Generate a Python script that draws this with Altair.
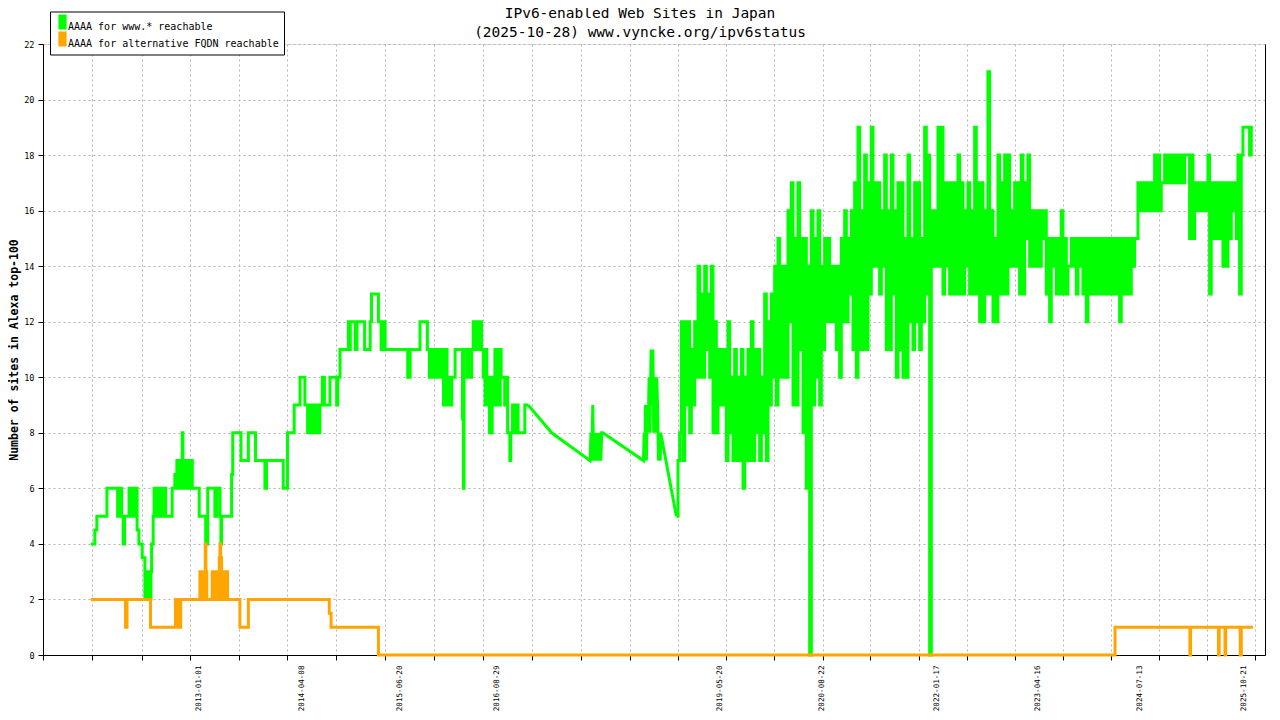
import altair as alt
import pandas as pd

MONO = "DejaVu Sans Mono"
GRID = "#b4b4b4"
WWW = "AAAA for www.* reachable"
ALT = "AAAA for alternative FQDN reachable"

# axis ticks / labels
x_tick_dates = ["2011-01-03", "2011-08-10", "2012-03-17", "2012-10-21", "2013-05-28",
                "2013-12-27", "2014-08-04", "2015-03-11", "2015-10-16", "2016-05-22",
                "2016-12-28", "2017-08-04", "2018-03-11", "2018-10-12", "2019-05-15",
                "2019-12-18", "2020-07-20", "2021-02-19", "2021-09-23", "2022-04-27",
                "2022-11-27", "2023-07-01", "2024-02-01", "2024-09-02", "2025-04-05",
                "2025-11-06"]
x_label_dates = ["2013-01-01", "2014-04-08", "2015-06-20", "2016-08-29", "2019-05-20",
                 "2020-08-22", "2022-01-17", "2023-04-16", "2024-07-13", "2025-10-21"]
y_ticks = [0, 2, 4, 6, 8, 10, 12, 14, 16, 18, 20, 22]

# www.* reachable, change points (2011-08 .. 2016-12)
www_step_dates = [
    "2011-08-03", "2011-08-21", "2011-08-30", "2011-10-14", "2011-12-01", "2011-12-06",
    "2011-12-19", "2011-12-26", "2012-01-01", "2012-01-21", "2012-01-25", "2012-01-29",
    "2012-02-02", "2012-02-06", "2012-02-10", "2012-02-14", "2012-02-18", "2012-02-22",
    "2012-02-26", "2012-03-05", "2012-03-20", "2012-04-01", "2012-04-05", "2012-04-09",
    "2012-04-13", "2012-04-17", "2012-04-21", "2012-04-25", "2012-04-28", "2012-05-01",
    "2012-05-08", "2012-05-12", "2012-05-16", "2012-05-20", "2012-05-24", "2012-05-28",
    "2012-06-01", "2012-06-05", "2012-06-09", "2012-06-13", "2012-06-17", "2012-06-21",
    "2012-06-25", "2012-06-29", "2012-07-03", "2012-08-01", "2012-08-13", "2012-08-22",
    "2012-08-26", "2012-08-30", "2012-09-03", "2012-09-07", "2012-09-11", "2012-09-15",
    "2012-09-18", "2012-09-22", "2012-09-26", "2012-09-30", "2012-10-04", "2012-10-08",
    "2012-10-12", "2012-10-16", "2012-10-20", "2012-10-24", "2012-10-30", "2012-11-30",
    "2012-12-29", "2013-01-07", "2013-02-08", "2013-02-17", "2013-03-03", "2013-03-07",
    "2013-03-10", "2013-04-24", "2013-04-29", "2013-06-05", "2013-07-08", "2013-08-09",
    "2013-09-20", "2013-09-27", "2013-12-11", "2013-12-30", "2014-01-29", "2014-02-24",
    "2014-03-18", "2014-03-30", "2014-04-03", "2014-04-07", "2014-04-11", "2014-04-15",
    "2014-04-19", "2014-04-23", "2014-04-27", "2014-05-01", "2014-05-05", "2014-05-09",
    "2014-05-13", "2014-05-17", "2014-05-24", "2014-06-04", "2014-06-13", "2014-07-08",
    "2014-08-07", "2014-08-12", "2014-08-22", "2014-09-29", "2014-10-03", "2014-10-07",
    "2014-10-29", "2014-11-06", "2014-12-10", "2015-01-04", "2015-01-10", "2015-02-10",
    "2015-02-22", "2015-02-28", "2015-03-12", "2015-06-21", "2015-07-02", "2015-08-15",
    "2015-09-17", "2015-09-26", "2015-09-30", "2015-10-04", "2015-10-08", "2015-10-12",
    "2015-10-16", "2015-10-20", "2015-10-24", "2015-10-28", "2015-11-01", "2015-11-05",
    "2015-11-09", "2015-11-13", "2015-11-17", "2015-11-21", "2015-11-25", "2015-11-28",
    "2015-12-02", "2015-12-06", "2015-12-10", "2015-12-14", "2015-12-18", "2015-12-22",
    "2015-12-26", "2015-12-30", "2016-01-04", "2016-01-19", "2016-02-21", "2016-02-25",
    "2016-02-28", "2016-03-13", "2016-03-20", "2016-03-27", "2016-04-02", "2016-04-09",
    "2016-04-17", "2016-04-21", "2016-04-27", "2016-05-06", "2016-05-16", "2016-05-24",
    "2016-05-28", "2016-06-01", "2016-06-05", "2016-06-09", "2016-06-13", "2016-06-17",
    "2016-06-21", "2016-06-25", "2016-06-29", "2016-07-03", "2016-07-09", "2016-07-15",
    "2016-07-19", "2016-07-23", "2016-07-27", "2016-07-31", "2016-08-04", "2016-08-08",
    "2016-08-12", "2016-08-28", "2016-09-04", "2016-09-10", "2016-09-20", "2016-09-24",
    "2016-10-02", "2016-10-06", "2016-10-10", "2016-10-14", "2016-10-20", "2016-10-27",
    "2016-11-26", "2016-12-11"]
www_step_vals = [
    4, 4.5, 5, 6, 5, 6,
    5, 4, 5, 6, 5, 6,
    5, 6, 5, 6, 5, 6,
    4.5, 4, 3.5, 2, 3, 2,
    3, 2, 3, 2, 3, 4,
    5, 6, 5, 6, 5, 6,
    5, 6, 5, 6, 5, 6,
    5, 6, 5, 6, 6.5, 7,
    6, 7, 6, 7, 6, 8,
    6, 7, 6, 7, 6, 7,
    6, 7, 6, 7, 6, 5,
    4, 6, 5, 6, 5, 4,
    5, 6.5, 8, 7, 8, 7,
    6, 7, 6, 8, 9, 10,
    9, 8, 9, 8, 9, 8,
    9, 8, 9, 8, 9, 8,
    9, 8, 9, 10, 9, 10,
    9, 10, 11, 12, 11, 12,
    11, 12, 11, 12, 13, 12,
    11, 12, 11, 10, 11, 12,
    11, 10, 11, 10, 11, 10,
    11, 10, 11, 10, 11, 10,
    11, 10, 11, 10, 11, 9,
    10, 9, 11, 9, 10, 9,
    10, 9, 10, 11, 8.5, 6,
    11, 10, 11, 10, 11, 12,
    11, 12, 11, 12, 11, 10,
    11, 9, 11, 10, 9, 10,
    8, 10, 8, 9, 10, 11,
    9, 11, 10, 11, 9, 11,
    10, 9, 10, 8, 7, 8,
    9, 8, 9, 8, 9, 8,
    9, 9]

# www.* reachable, sparse stretch 2016-12 .. 2018-10 (straight segments)
www_gap_dates = [
    "2016-12-11", "2017-03-26", "2017-09-14", "2017-09-18", "2017-09-22", "2017-09-26",
    "2017-09-30", "2017-10-04", "2017-10-08", "2017-10-12", "2017-10-16", "2017-10-20",
    "2017-10-24", "2017-10-28", "2017-11-01", "2017-11-05", "2017-11-10", "2018-05-11",
    "2018-05-14", "2018-05-17", "2018-05-20", "2018-05-24", "2018-05-28", "2018-06-01",
    "2018-06-05", "2018-06-09", "2018-06-14", "2018-06-18", "2018-06-22", "2018-06-26",
    "2018-06-30", "2018-07-05", "2018-07-09", "2018-07-13", "2018-07-17", "2018-07-21",
    "2018-07-25", "2018-07-27", "2018-10-05"]
www_gap_vals = [
    9, 8, 7, 8, 7, 9,
    7, 8, 7, 8, 7, 8,
    7, 8, 7, 8, 8, 7,
    8, 7, 9, 7, 9, 8,
    10, 8, 11, 9, 11, 8,
    10, 8, 10, 9, 7, 8,
    7, 8, 5]

# www.* reachable, dense daily noise 2018-10-05 .. 2025-10-28, low/high readings
www_dense_start = "2018-10-05"
www_dense_end = "2025-10-28"
www_dense_vals = [
    5, 7, 8, 12, 7, 12, 9, 12, 8, 11, 9, 12, 10, 14,
    10, 13, 10, 14, 11, 13, 10, 14, 8, 12, 8, 11, 9, 11, 9, 11, 7, 12, 8, 10,
    7, 11, 7, 10, 7, 11, 6, 10, 7, 11, 7, 12, 7, 11, 8, 11, 7, 10, 8, 13,
    7, 12, 9, 13, 10, 14, 9, 15, 10, 14, 10, 14, 10, 16, 12, 17, 9, 15, 9, 17,
    11, 15, 8, 15, 6, 14, 0, 16, 9, 15, 10, 16, 9, 14, 11, 15, 12, 15, 12, 14,
    12, 14, 11, 14, 10, 15, 12, 16, 12, 15, 13, 16, 11, 17, 10, 19, 11, 16, 11, 18,
    11, 17, 13, 19, 14, 17, 14, 17, 13, 16, 14, 18, 11, 16, 11, 18, 13, 16, 10, 17,
    11, 17, 10, 15, 10, 18, 12, 15, 11, 17, 12, 17, 11, 15, 12, 19, 13, 18, 0, 16,
    14, 16, 14, 19, 14, 19, 13, 17, 14, 17, 13, 17, 13, 17, 13, 18, 13, 17, 13, 16,
    14, 17, 13, 16, 13, 19, 13, 17, 12, 17, 12, 16, 13, 21, 13, 16, 12, 15, 12, 18,
    13, 17, 13, 18, 13, 18, 14, 16, 14, 17, 14, 17, 13, 18, 13, 17, 15, 18, 14, 16,
    14, 16, 14, 16, 14, 16, 15, 16, 13, 15, 12, 15, 14, 15, 13, 15, 13, 16, 13, 15,
    13, 14, 14, 15, 14, 15, 13, 15, 14, 15, 13, 15,
    12, 15, 13, 15, 13, 15, 13, 15, 13, 15, 13, 15, 13, 15, 13, 15, 13, 15, 13, 15,
    12, 15, 13, 15, 13, 15, 13, 15, 14, 15, 15, 17, 16, 17, 16, 17, 16, 17, 16, 17,
    16, 18, 16, 18, 16, 17, 17, 18, 17, 18, 17, 18, 17, 18, 17, 18, 17, 18, 17, 18,
    18, 18, 15, 18, 15, 17, 16, 17, 16, 17, 16, 17, 16, 18, 13, 17, 15, 17, 15, 17,
    15, 17, 14, 17, 14, 17, 15, 17, 16, 17, 15, 18, 13, 18, 19, 19, 19, 19, 18, 19,
    19]

# alternative FQDN reachable, change points
alt_dates = [
    "2011-08-03", "2012-01-05", "2012-01-12", "2012-04-26", "2012-08-16", "2012-08-19",
    "2012-08-23", "2012-08-27", "2012-08-31", "2012-09-04", "2012-09-08", "2012-12-03",
    "2012-12-07", "2012-12-11", "2012-12-15", "2012-12-19", "2012-12-23", "2012-12-27",
    "2012-12-30", "2013-01-03", "2013-01-27", "2013-01-31", "2013-02-04", "2013-02-08",
    "2013-02-12", "2013-02-16", "2013-02-20", "2013-02-24", "2013-02-28", "2013-03-03",
    "2013-03-06", "2013-03-10", "2013-03-14", "2013-03-18", "2013-03-22", "2013-03-26",
    "2013-03-30", "2013-04-06", "2013-05-31", "2013-07-08", "2014-07-05", "2014-07-13",
    "2015-02-10", "2024-02-19", "2025-01-19", "2025-01-22", "2025-05-27", "2025-05-30",
    "2025-06-25", "2025-06-28", "2025-09-01", "2025-09-06", "2025-10-28"]
alt_vals = [
    2, 1, 2, 1, 2, 1,
    2, 1, 2, 1, 2, 3,
    2, 3, 2, 3, 2, 4,
    3, 2, 3, 2, 3, 2,
    3, 2, 3, 2, 3.5, 4,
    3.5, 2, 3, 2, 3, 2,
    3, 2, 1, 2, 1.5, 1,
    0, 1, 0, 1, 0, 1,
    0, 1, 0, 1, 1]


def ms(d):
    return int(pd.Timestamp(d, tz="UTC").value // 10**6)


dense_dates = pd.date_range(www_dense_start, www_dense_end,
                            periods=len(www_dense_vals)).strftime("%Y-%m-%dT%H:%M:%SZ")

steps = pd.concat([
    pd.DataFrame({"date": www_step_dates, "value": www_step_vals, "seg": "a"}),
    pd.DataFrame({"date": list(dense_dates), "value": www_dense_vals, "seg": "b"}),
])
steps["series"] = WWW
gaps = pd.DataFrame({"date": www_gap_dates, "value": www_gap_vals, "series": WWW})
fqdn = pd.DataFrame({"date": alt_dates, "value": alt_vals, "series": ALT})

x_scale = alt.Scale(domain=[ms("2011-01-01"), ms("2025-12-21")])
y_scale = alt.Scale(domain=[0, 22], nice=False)

# legend swatch: a block of thin vertical strokes (path units are pixels at size 4)
SWATCH = "".join(f"M{i},-7V8" for i in range(-1, 7))
legend = alt.Legend(
    title=None, orient="none", legendX=7, legendY=-32.5, direction="vertical",
    labelFont=MONO, labelFontSize=10, labelColor="black", labelOffset=3,
    labelBaseline="top", labelLimit=400,
    symbolType=SWATCH, symbolSize=4, symbolStrokeWidth=1.2,
    padding=5, rowPadding=-4, strokeColor="black", fillColor="white",
)
color = alt.Color("series:N", legend=legend,
                  scale=alt.Scale(domain=[WWW, ALT], range=["#00ff00", "#ffa500"]))

# grid + ticks along the bottom, no text
x_axis_ticks = alt.Axis(orient="bottom", values=[ms(d) for d in x_tick_dates],
                        labels=False, title=None, tickSize=5, tickColor="black",
                        domainColor="black", grid=True, gridColor=GRID, gridDash=[2, 3])
# date labels, drawn on their own axis at the same place
x_axis_labels = alt.Axis(orient="bottom", values=[ms(d) for d in x_label_dates], title=None,
                         labelExpr="utcFormat(datum.value, '%Y-%m-%d')",
                         labelAngle=270, labelOffset=-8, labelPadding=10,
                         labelFont=MONO, labelFontSize=7.6, labelColor="black",
                         labelOverlap=False, ticks=False, domain=False, grid=False)
y_axis_left = alt.Axis(orient="left", values=y_ticks, title="Number of sites in Alexa top-100",
                       titleFont=MONO, titleFontSize=11.5, titleFontWeight="bold",
                       titleColor="black", titleX=-29, titleBaseline="middle",
                       labelFont=MONO, labelFontSize=8.5, labelColor="black",
                       labelPadding=4, tickSize=5, tickColor="black",
                       domainColor="black", grid=True, gridColor=GRID, gridDash=[2, 3])
y_axis_right = alt.Axis(orient="right", labels=False, ticks=False, grid=False,
                        title=None, domainColor="black")

www_line = alt.Chart(steps).mark_line(interpolate="step-after").encode(
    x=alt.X("date:T", scale=x_scale, axis=x_axis_ticks),
    y=alt.Y("value:Q", scale=y_scale, axis=y_axis_left),
    color=color,
    detail="seg:N",
    strokeWidth=alt.value(3),
)

www_gap_line = alt.Chart(gaps).mark_line().encode(
    x=alt.X("date:T", scale=x_scale, axis=x_axis_labels),
    y=alt.Y("value:Q", scale=y_scale, axis=y_axis_right),
    color=color,
    strokeWidth=alt.value(3),
)

fqdn_line = alt.Chart(fqdn).mark_line(interpolate="step-after").encode(
    x=alt.X("date:T", scale=x_scale, axis=None),
    y=alt.Y("value:Q", scale=y_scale, axis=None),
    color=color,
    strokeWidth=alt.value(3),
)

chart = alt.layer(www_line, www_gap_line, fqdn_line).resolve_scale(
    x="shared", y="shared"
).resolve_axis(
    x="independent", y="independent"
).properties(
    width=1222, height=611,
    autosize=alt.AutoSizeParams(type="none"),
    padding={"left": 35, "top": 36, "right": 7, "bottom": 57},
    title=alt.TitleParams(
        text=["IPv6-enabled Web Sites in Japan", "(2025-10-28) www.vyncke.org/ipv6status"],
        font=MONO, fontSize=14.5, fontWeight="normal", color="black",
        anchor="middle", lineHeight=19, offset=6, dx=-14, dy=35),
).configure_view(stroke=None).configure(background="white")

chart.save("out.html", embed_options={"renderer": "svg", "actions": False})
